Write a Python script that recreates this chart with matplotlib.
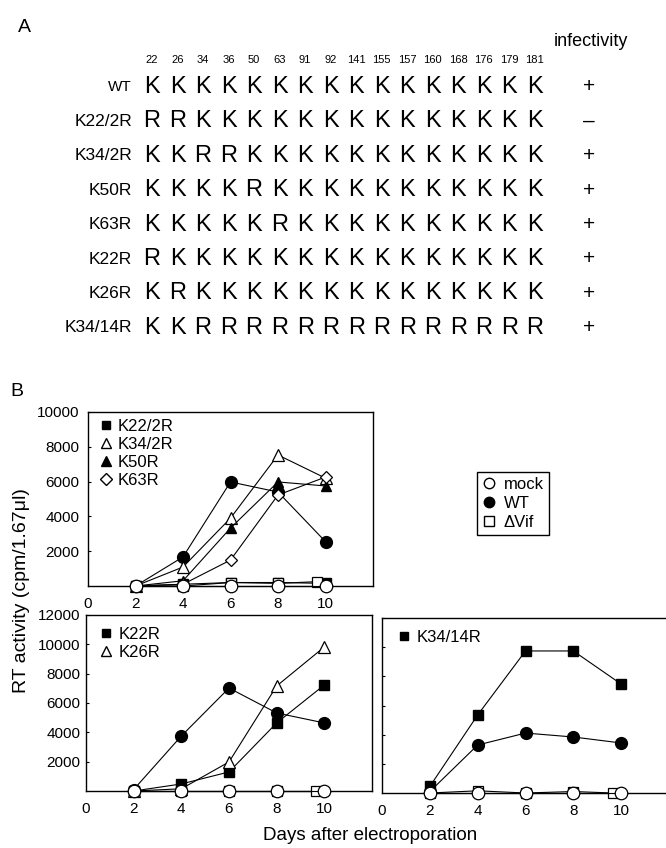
import matplotlib
matplotlib.use("Agg")
import matplotlib.pyplot as plt
from matplotlib.lines import Line2D

plt.rcParams['font.family'] = ['Liberation Sans', 'DejaVu Sans']

# ---------------- Panel A data ----------------
positions = [22, 26, 34, 36, 50, 63, 91, 92, 141, 155, 157, 160, 168, 176, 179, 181]
mutants = ["WT", "K22/2R", "K34/2R", "K50R", "K63R", "K22R", "K26R", "K34/14R"]
sequences = [
    "KKKKKKKKKKKKKKKK",
    "RRKKKKKKKKKKKKKK",
    "KKRRKKKKKKKKKKKK",
    "KKKKRKKKKKKKKKKK",
    "KKKKKRKKKKKKKKKK",
    "RKKKKKKKKKKKKKKK",
    "KRKKKKKKKKKKKKKK",
    "KKRRRRRRRRRRRRRR",
]
infectivity = ["+", "\u2013", "+", "+", "+", "+", "+", "+"]

# ---------------- Panel B data ----------------
days = [2, 4, 6, 8, 10]
dvif_days = [2, 4, 6, 8, 9.65]

# top panel
top_wt = [0, 1670, 5980, 5400, 2550]
top_mock = [0, 0, 0, 0, 0]
top_dvif = [0, 0, 200, 150, 250]
k22_2r = [0, 100, 200, 200, 150]
k34_2r = [0, 1090, 3900, 7530, 6200]
k50r = [0, 300, 3330, 5980, 5750]
k63r = [0, 100, 1490, 5230, 6260]

# bottom-left panel
bl_wt = [100, 3750, 7020, 5320, 4640]
bl_mock = [0, 0, 0, 0, 0]
bl_dvif = [0, 0, 0, 0, 0]
k22r = [0, 480, 1300, 4640, 7230]
k26r = [0, 150, 1980, 7160, 9820]

# bottom-right panel
br_wt = [100, 3290, 4110, 3840, 3430]
br_mock = [0, 0, 0, 0, 0]
br_dvif = [0, 150, 0, 100, 0]
k34_14r = [450, 5350, 9740, 9740, 7470]

xticks = [0, 2, 4, 6, 8, 10]

W, H = 666, 848
fig = plt.figure(figsize=(W / 100, H / 100), dpi=100)


def px_axes(left, top, right, bottom):
    return fig.add_axes([left / W, 1 - bottom / H, (right - left) / W, (bottom - top) / H])


# ---------------- Panel A ----------------
axA = fig.add_axes([0, 1 - 340 / H, 1, 340 / H])
axA.axis('off')
col0, dcol = 152, 25.53
row0, drow = 87, 34.4
axA.set_xlim((0 - col0) / dcol, (W - col0) / dcol)
axA.set_ylim((340 - row0) / drow, (0 - row0) / drow)

for i, p in enumerate(positions):
    axA.text(i, -0.78, str(p), ha='center', va='center', fontsize=8)
for r, (name, seq, inf) in enumerate(zip(mutants, sequences, infectivity)):
    axA.text(-0.78, r, name, ha='right', va='center',
             fontsize=11 if name == "WT" else 12.5)
    for i, aa in enumerate(seq):
        axA.text(i, r, aa, ha='center', va='center', fontsize=17)
    axA.text(17.1, r, inf, ha='center', va='center', fontsize=15)
axA.text(17.2, -1.33, "infectivity", ha='center', va='center', fontsize=13)

fig.text(24 / W, 1 - 27 / H, "A", ha='center', va='center', fontsize=14)
fig.text(17 / W, 1 - 392 / H, "B", ha='center', va='center', fontsize=14)

# ---------------- Panel B ----------------
LW = 0.8
MS_C = 9


def style(ax, ymax, yticks, show_ylabels=True, ypad=3):
    ax.set_xlim(0, 12)
    ax.set_ylim(0, ymax)
    ax.set_xticks(xticks)
    ax.set_xticklabels([str(t) for t in xticks], fontsize=11)
    ax.set_yticks(yticks)
    if show_ylabels:
        ax.set_yticklabels([str(t) for t in yticks], fontsize=11)
    else:
        ax.set_yticklabels([])
    ax.tick_params(axis='x', direction='in', length=0, pad=8)
    ax.tick_params(axis='y', direction='in', length=2, pad=ypad)
    for s in ax.spines.values():
        s.set_linewidth(1.0)
    ax.patch.set_alpha(0)


def plot_common(ax, wt, mock, dvif):
    ax.plot(dvif_days, dvif, color='black', lw=LW, marker='s', ms=7.5,
            mfc='white', mec='black', mew=0.9, zorder=3, clip_on=False)
    ax.plot(days, wt, color='black', lw=LW, marker='o', ms=8.5,
            mfc='black', mec='black', zorder=4, clip_on=False)
    ax.plot(days, mock, color='black', lw=LW, marker='o', ms=MS_C,
            mfc='white', mec='black', mew=0.9, zorder=6, clip_on=False)


# top panel
ax1 = px_axes(88, 412, 373, 586)
ax1.plot(days, k22_2r, color='black', lw=LW, marker='s', ms=6.5, mfc='black', zorder=3, clip_on=False)
ax1.plot(days, k34_2r, color='black', lw=LW, marker='^', ms=8, mfc='white', mec='black', mew=0.9, zorder=5, clip_on=False)
ax1.plot(days, k50r, color='black', lw=LW, marker='^', ms=7.5, mfc='black', zorder=5, clip_on=False)
ax1.plot(days, k63r, color='black', lw=LW, marker='D', ms=6.5, mfc='white', mec='black', mew=0.9, zorder=5, clip_on=False)
plot_common(ax1, top_wt, top_mock, top_dvif)
style(ax1, 10000, [2000, 4000, 6000, 8000, 10000], ypad=6)
h1 = [Line2D([], [], ls='none', marker='s', ms=6, color='black'),
      Line2D([], [], ls='none', marker='^', ms=7, mfc='white', mec='black'),
      Line2D([], [], ls='none', marker='^', ms=7, color='black'),
      Line2D([], [], ls='none', marker='D', ms=6, mfc='white', mec='black')]
ax1.legend(h1, ["K22/2R", "K34/2R", "K50R", "K63R"], loc='upper left',
           bbox_to_anchor=(0.015, 1.0), frameon=False, fontsize=12,
           handlelength=0.8, handletextpad=0.35, labelspacing=0.18,
           borderpad=0.2, borderaxespad=0.2)

# bottom-left panel
ax2 = px_axes(86, 615, 372, 791)
ax2.plot(days, k22r, color='black', lw=LW, marker='s', ms=7, mfc='black', zorder=3, clip_on=False)
ax2.plot(days, k26r, color='black', lw=LW, marker='^', ms=8.5, mfc='white', mec='black', mew=0.9, zorder=5, clip_on=False)
plot_common(ax2, bl_wt, bl_mock, bl_dvif)
style(ax2, 12000, [2000, 4000, 6000, 8000, 10000, 12000], ypad=4)
h2 = [Line2D([], [], ls='none', marker='s', ms=6, color='black'),
      Line2D([], [], ls='none', marker='^', ms=7, mfc='white', mec='black')]
ax2.legend(h2, ["K22R", "K26R"], loc='upper left',
           bbox_to_anchor=(0.025, 0.97), frameon=False, fontsize=12,
           handlelength=0.8, handletextpad=0.35, labelspacing=0.18,
           borderpad=0.2, borderaxespad=0.2)

# bottom-right panel
ax3 = px_axes(382, 618, 669, 793)
ax3.plot(days, k34_14r, color='black', lw=LW, marker='s', ms=7, mfc='black', zorder=5, clip_on=False)
plot_common(ax3, br_wt, br_mock, br_dvif)
style(ax3, 12000, [2000, 4000, 6000, 8000, 10000, 12000], show_ylabels=False)
h3 = [Line2D([], [], ls='none', marker='s', ms=6, color='black')]
ax3.legend(h3, ["K34/14R"], loc='upper left',
           bbox_to_anchor=(0.03, 0.97), frameon=False, fontsize=12,
           handlelength=0.8, handletextpad=0.35, borderpad=0.2, borderaxespad=0.2)

# common legend
hc = [Line2D([], [], ls='none', marker='o', ms=7.5, mfc='white', mec='black'),
      Line2D([], [], ls='none', marker='o', ms=7.5, color='black'),
      Line2D([], [], ls='none', marker='s', ms=6.5, mfc='white', mec='black')]
lg = fig.legend(hc, ["mock", "WT", "\u0394Vif"], loc='upper left',
                bbox_to_anchor=(477 / W, 1 - 472 / H), fontsize=12,
                handlelength=0.8, handletextpad=0.5, labelspacing=0.25,
                borderpad=0.3, borderaxespad=0, fancybox=False,
                edgecolor='black', framealpha=1)
lg.get_frame().set_linewidth(1.0)

fig.text(22 / W, 1 - 591 / H, "RT activity (cpm/1.67\u03bcl)", rotation=90,
         ha='center', va='center', fontsize=14)
fig.text(370 / W, 1 - 835 / H, "Days after electroporation",
         ha='center', va='center', fontsize=13.5)

fig.savefig("out.png", dpi=100)
